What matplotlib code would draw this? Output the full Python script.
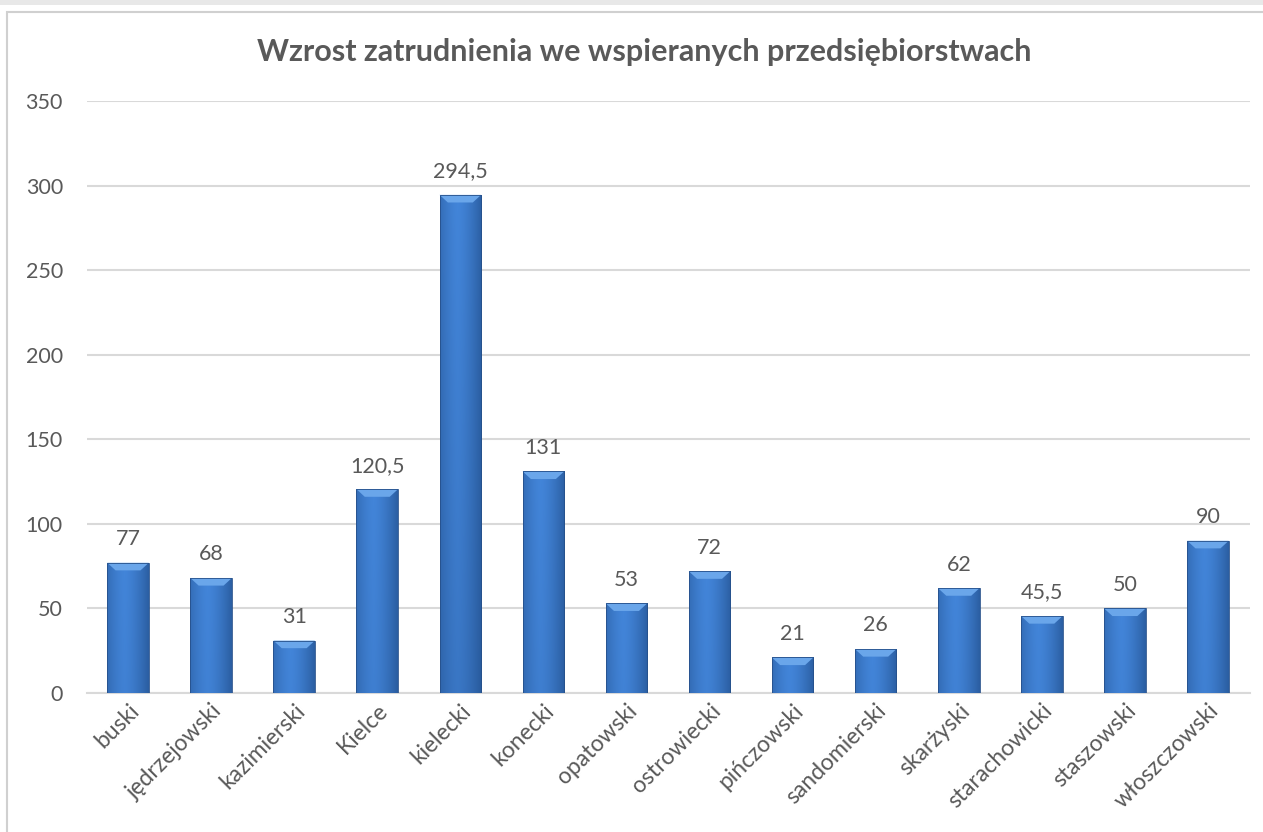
import matplotlib.pyplot as plt
import matplotlib.patches as mpatches
import numpy as np

plt.rcParams['font.family'] = ['Lato', 'DejaVu Sans']

districts = ['buski', 'jędrzejowski', 'kazimierski', 'Kielce', 'kielecki', 'konecki',
             'opatowski', 'ostrowiecki', 'pińczowski', 'sandomierski', 'skarżyski',
             'starachowicki', 'staszowski', 'włoszczowski']
growth = [77, 68, 31, 120.5, 294.5, 131, 53, 72, 21, 26, 62, 45.5, 50, 90]
yticks = [0, 50, 100, 150, 200, 250, 300, 350]
title = 'Wzrost zatrudnienia we wspieranych przedsiębiorstwach'

text_col = '#595959'
grid_col = '#d9d9d9'
fs = 15.5

fig = plt.figure(figsize=(12.63, 8.32), dpi=100)
# outer chart frame
fig.patches.append(mpatches.Rectangle((0, 1 - 5 / 832), 1, 5 / 832, transform=fig.transFigure,
                                      facecolor='#e8e8e8', edgecolor='none'))
fig.patches.append(mpatches.Rectangle((7 / 1263, -0.01), 1.0, 1 - 12 / 832 + 0.01,
                                      transform=fig.transFigure, facecolor='none',
                                      edgecolor='#d0d0d0', linewidth=1.5))

ax = fig.add_axes([86.5 / 1263, 139 / 832, 1163 / 1263, 592 / 832])
x = np.arange(len(districts))
bars = ax.bar(x, growth, width=0.5, color='none', edgecolor='none', zorder=3)

# horizontal profile of the bar shading
prof = np.linspace(0, 1, 60)
shade = 1 - 0.6 * np.abs(prof - 0.42) ** 1.5 * 2.4
dark = np.array([0.12, 0.29, 0.52])
light = np.array([0.26, 0.52, 0.85])
for b, v in zip(bars, growth):
    x0 = b.get_x()
    w = b.get_width()
    vert = np.linspace(1.0, 1.0 - 0.25 * v / 300, 80)[:, None]
    img = dark + (light - dark) * np.clip(shade[None, :, None] * vert[:, :, None], 0, 1)
    im = ax.imshow(img, extent=(x0, x0 + w, 0, v), aspect='auto', origin='upper',
                   zorder=3, interpolation='bilinear')
    im.set_clip_path(b)
    dx = 0.1
    dy = 4.5
    top = mpatches.Polygon([(x0, v), (x0 + w, v), (x0 + w - dx, v - dy), (x0 + dx, v - dy)],
                           closed=True, facecolor='#6aa6ea', edgecolor='none', zorder=4)
    ax.add_patch(top)
    ax.add_patch(mpatches.Rectangle((x0, 0), w, v, facecolor='none', edgecolor='#26508a',
                                    linewidth=0.6, zorder=5))
    lbl = ('%g' % v).replace('.', ',')
    ax.text(x0 + w / 2, v + 8, lbl, ha='center', va='bottom', fontsize=fs, color=text_col)

ax.set_xlim(-0.5, len(districts) - 0.5)
ax.set_ylim(0, 350)
ax.set_yticks(yticks)
ax.set_yticklabels([str(t) for t in yticks], fontsize=fs, color=text_col)
ax.set_xticks(x)
ax.set_xticklabels(districts, rotation=45, ha='right', rotation_mode='anchor',
                   fontsize=16.5, color=text_col)
ax.tick_params(axis='both', length=0)
ax.tick_params(axis='y', pad=17)
ax.tick_params(axis='x', pad=5)
ax.grid(axis='y', color=grid_col, linewidth=1.5, zorder=0)
ax.set_axisbelow(True)
for s in ['top', 'right', 'left']:
    ax.spines[s].set_visible(False)
ax.spines['bottom'].set_color(grid_col)
ax.spines['bottom'].set_linewidth(1.5)

fig.text(644 / 1263, 1 - 52 / 832, title, ha='center', va='center', fontsize=22,
         fontweight='bold', color=text_col)

fig.savefig('out.png', dpi=100)
